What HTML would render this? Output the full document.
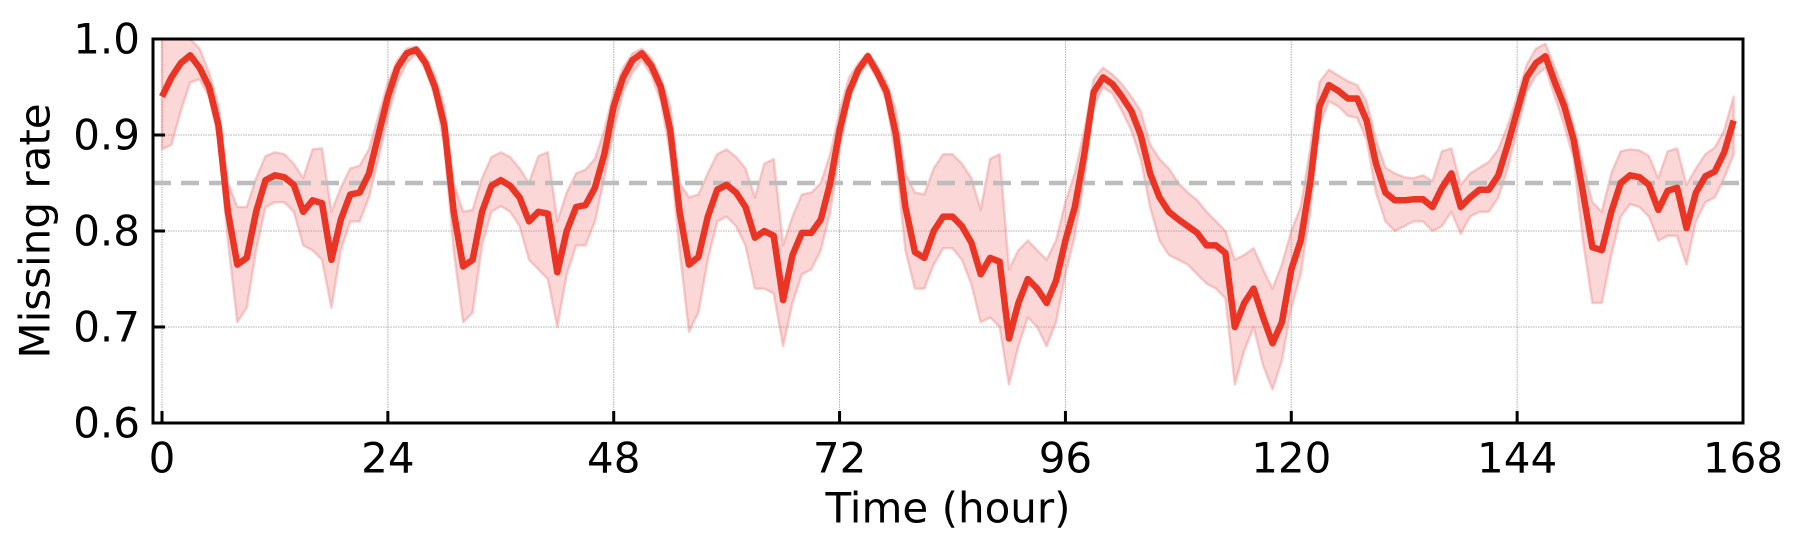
<!DOCTYPE html>
<html><head><meta charset="utf-8"><style>
html,body{margin:0;padding:0;background:#fff;}
svg{display:block;font-family:"DejaVu Sans","Liberation Sans",sans-serif;}
</style></head><body>
<svg id="chart" width="1804" height="554" viewBox="0 0 1804 554">
<g id="grid"></g>
<g id="plot"></g>
<g id="axes"></g>
<text x="35" y="231" transform="rotate(-90 35 231)" text-anchor="middle" dominant-baseline="central" font-size="42" fill="#000">Missing rate</text>
<text x="948" y="508" text-anchor="middle" dominant-baseline="central" font-size="42" fill="#000">Time (hour)</text>
</svg>
<script>
const hours = [];
for (let i = 0; i < 168; i++) hours.push(i);
const meanRate = [.94,.96,.975,.983,.97,.95,.91,.82,.765,.772,.82,.853,.858,.856,.848,.82,.832,.829,.77,.812,.838,.84,.86,.9,
.94,.97,.985,.989,.975,.95,.91,.82,.763,.77,.82,.847,.853,.847,.835,.81,.82,.818,.757,.80,.825,.827,.845,.88,
.93,.96,.978,.985,.972,.95,.905,.82,.765,.773,.815,.843,.848,.84,.825,.793,.80,.795,.728,.775,.798,.798,.812,.85,
.905,.945,.968,.982,.965,.945,.90,.825,.778,.772,.80,.815,.815,.805,.788,.755,.772,.768,.688,.725,.75,.74,.725,.748,
.79,.825,.88,.945,.96,.953,.94,.925,.90,.86,.835,.82,.812,.805,.798,.785,.785,.777,.70,.725,.74,.71,.683,.705,
.76,.79,.85,.93,.952,.946,.938,.938,.915,.87,.84,.832,.832,.833,.833,.825,.845,.86,.825,.835,.843,.843,.858,.89,
.925,.96,.975,.982,.955,.93,.895,.84,.783,.78,.82,.85,.858,.856,.848,.822,.842,.845,.803,.84,.857,.862,.882,.915];
const upperRate = [1.0,1.0,1.0,1.0,.99,.965,.93,.85,.825,.825,.855,.878,.882,.880,.870,.855,.885,.886,.82,.845,.865,.868,.885,.92,
.955,.978,.99,.992,.982,.962,.93,.85,.82,.822,.855,.877,.882,.877,.865,.85,.878,.882,.81,.84,.86,.864,.875,.905,
.945,.97,.985,.99,.98,.96,.93,.85,.835,.838,.86,.88,.885,.877,.865,.835,.87,.875,.785,.815,.838,.84,.85,.88,
.925,.96,.975,.986,.972,.955,.925,.86,.84,.838,.865,.88,.88,.87,.855,.822,.875,.88,.76,.78,.79,.78,.77,.79,
.83,.86,.905,.958,.97,.963,.953,.94,.925,.89,.875,.865,.85,.84,.832,.82,.81,.80,.77,.775,.782,.76,.74,.765,
.80,.825,.885,.955,.968,.962,.956,.952,.935,.895,.866,.86,.856,.855,.858,.852,.883,.886,.848,.86,.866,.872,.885,.91,
.94,.973,.99,.995,.97,.945,.91,.87,.83,.82,.86,.883,.885,.884,.878,.855,.883,.886,.848,.865,.88,.887,.905,.94];
const lowerRate = [.885,.89,.925,.955,.958,.94,.895,.79,.705,.72,.78,.825,.83,.83,.82,.785,.78,.77,.72,.78,.81,.81,.835,.875,
.92,.955,.975,.985,.968,.94,.89,.78,.705,.715,.785,.82,.826,.82,.805,.77,.76,.75,.70,.755,.785,.785,.81,.855,
.905,.945,.965,.978,.962,.935,.88,.78,.695,.715,.77,.81,.815,.805,.785,.74,.74,.735,.68,.725,.755,.76,.78,.82,
.885,.935,.962,.975,.958,.935,.875,.78,.74,.74,.765,.782,.782,.77,.745,.705,.71,.70,.64,.68,.71,.70,.68,.705,
.755,.795,.855,.93,.95,.943,.925,.905,.875,.825,.79,.775,.77,.765,.755,.745,.74,.73,.64,.675,.70,.66,.635,.665,
.72,.755,.82,.91,.935,.93,.92,.918,.895,.84,.81,.80,.805,.81,.81,.80,.805,.82,.797,.815,.82,.82,.835,.865,
.905,.945,.962,.97,.94,.91,.875,.79,.725,.725,.775,.815,.828,.825,.815,.79,.795,.795,.765,.81,.83,.835,.855,.88];
const xTicks = [0,24,48,72,96,120,144,168];
const yTicks = [0.6,0.7,0.8,0.9,1.0];
const yTickLabels = ["0.6","0.7","0.8","0.9","1.0"];
const refLevel = [0.85];

const L=153, R=1743, T=39, B=423;
function xs(v){return 162 + (v-0)*(1743-162)/168;}
function ys(v){return B - (v-0.6)*(B-T)/0.4;}
const NS="http://www.w3.org/2000/svg";
function mk(tag, attrs, parent){const e=document.createElementNS(NS,tag);for(const k in attrs)e.setAttribute(k,attrs[k]);parent.appendChild(e);return e;}
const grid=document.getElementById('grid'), plot=document.getElementById('plot'), axes=document.getElementById('axes');

xTicks.forEach(t=>{
  const g=mk('line',{x1:xs(t),x2:xs(t),y1:T,y2:B,stroke:'#b0b0b0','stroke-width':1,'stroke-dasharray':'1.5 1'},grid);
  
  
  const tk=mk('line',{x1:xs(t),x2:xs(t),y1:B,y2:B-12,stroke:'#000','stroke-width':3},axes);
  
  
  const lb=mk('text',{x:xs(t),y:458,'text-anchor':'middle','dominant-baseline':'central','font-size':42,fill:'#000'},axes);
  lb.textContent=String(t);
  
  
});
yTicks.forEach((t,i)=>{
  const g=mk('line',{x1:L,x2:R,y1:ys(t),y2:ys(t),stroke:'#b0b0b0','stroke-width':1,'stroke-dasharray':'1.5 1'},grid);
  
  
  const tk=mk('line',{x1:L,x2:L+12,y1:ys(t),y2:ys(t),stroke:'#000','stroke-width':3},axes);
  
  
  const lb=mk('text',{x:140,y:ys(t),'text-anchor':'end','dominant-baseline':'central','font-size':42,fill:'#000'},axes);
  lb.textContent=yTickLabels[i];
  
  
});
const frame=mk('rect',{x:L,y:T,width:R-L,height:B-T,fill:'none',stroke:'#000','stroke-width':3},axes);



let d='';
hours.forEach((h,i)=>{d+=(i?'L':'M')+xs(h).toFixed(1)+' '+ys(Math.min(upperRate[i],1.0)).toFixed(1);});
for(let i=hours.length-1;i>=0;i--){d+='L'+xs(hours[i]).toFixed(1)+' '+ys(lowerRate[i]).toFixed(1);}
d+='Z';
const band=mk('path',{d:d,fill:'rgba(240,110,110,0.28)',stroke:'rgba(235,120,120,0.35)','stroke-width':2.5,'stroke-linejoin':'round'},plot);



refLevel.forEach(v=>{
  const rl=mk('line',{x1:L,x2:R,y1:ys(v),y2:ys(v),stroke:'#bdbdbd','stroke-width':4.5,'stroke-dasharray':'18 10'},plot);
  
  
});

let ld='';
hours.forEach((h,i)=>{ld+=(i?'L':'M')+xs(h).toFixed(1)+' '+ys(meanRate[i]).toFixed(1);});
const line=mk('path',{d:ld,fill:'none',stroke:'#ea3424','stroke-width':6.5,'stroke-linejoin':'round'},plot);


</script>
</body></html>
